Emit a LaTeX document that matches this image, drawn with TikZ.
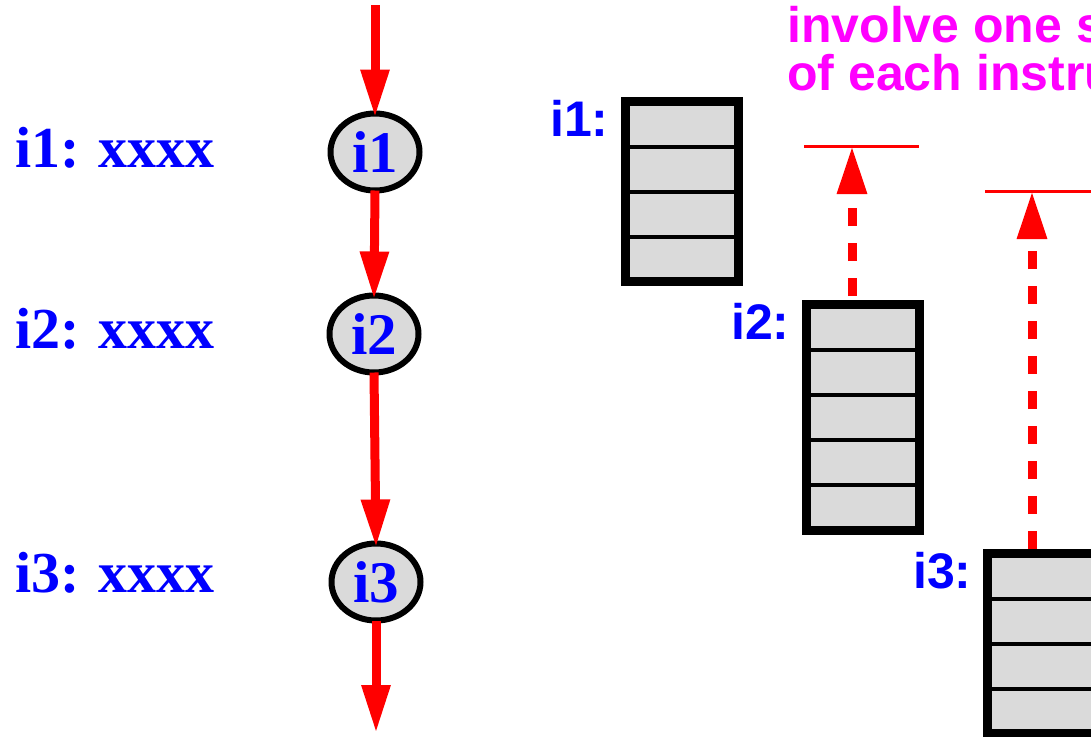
\documentclass[tikz,border=0pt]{standalone}
\usepackage{fontspec}
\setmainfont{Liberation Serif}
\setsansfont{Liberation Sans}
\usetikzlibrary{arrows.meta,calc,shapes.geometric}
\definecolor{lblblue}{RGB}{0,0,255}
\definecolor{notemag}{RGB}{255,0,255}
\definecolor{flowred}{RGB}{255,0,0}
\definecolor{stipple}{RGB}{218,218,218}
\begin{document}
\begin{tikzpicture}[x=1pt,y=-1pt,
  serlbl/.style={text=lblblue,font=\fontsize{58}{58}\bfseries\selectfont,inner sep=0pt},
  sanlbl/.style={text=lblblue,font=\sffamily\fontsize{50}{50}\bfseries\selectfont,inner sep=0pt},
  instr/.style={ellipse,draw=black,line width=6pt,fill=stipple,minimum width=89pt,minimum height=77pt,
    inner sep=0pt,outer sep=0pt,text=lblblue,font=\fontsize{59}{59}\bfseries\selectfont},
  stagebox/.style={draw=black,line width=9pt,fill=stipple,inner sep=0pt,outer sep=0pt},
  divider/.style={line width=4pt,draw=black},
  flow/.style={draw=flowred,line width=9pt,-{Triangle[width=27pt,length=48pt]}},
  depend/.style={draw=flowred,line width=9pt,dash pattern=on 18pt off 17pt,-{Triangle[width=28pt,length=48pt]}},
  limit/.style={draw=flowred,line width=3pt},
  notetext/.style={text=notemag,font=\sffamily\fontsize{50}{48}\bfseries\selectfont,inner sep=0pt},
]
\useasboundingbox (0,0) rectangle (1091,736);
\clip (0,0) rectangle (1091,736);

% program listing on the left
\node[serlbl,anchor=base west] (l1) at (15,167) {i1: xxxx};
\node[serlbl,anchor=base west] (l2) at (15,348) {i2: xxxx};
\node[serlbl,anchor=base west] (l3) at (15,592) {i3: xxxx};

% sequential order of the instructions
\node[instr] (e1) at (375,152) {i1};
\node[instr] (e2) at (374,334) {i2};
\node[instr] (e3) at (376,582) {i3};
\coordinate (top) at (375,5);
\coordinate (bot) at (376,733);
\draw[flow] (top) -- ([yshift=-4pt]e1.north);
\draw[flow] (e1.south) -- ([yshift=-4pt]e2.north);
\draw[flow] (e2.south) -- ([yshift=-4pt]e3.north);
\draw[flow] (e3.south) -- (bot);

% stage stacks of the instructions
\node[stagebox,minimum width=113pt,minimum height=180pt,anchor=north west] (b1) at (625.5,101.5) {};
\node[stagebox,minimum width=113pt,minimum height=226pt,anchor=north west] (b2) at (806.5,304.5) {};
\node[stagebox,minimum width=113pt,minimum height=180pt,anchor=north west] (b3) at (987.5,553.5) {};
\foreach \k in {1,2,3} \draw[divider] ($(b1.north west)!\k/4!(b1.south west)$) -- ($(b1.north east)!\k/4!(b1.south east)$);
\foreach \k in {1,2,3,4} \draw[divider] ($(b2.north west)!\k/5!(b2.south west)$) -- ($(b2.north east)!\k/5!(b2.south east)$);
\foreach \k in {1,2,3} \draw[divider] ($(b3.north west)!\k/4!(b3.south west)$) -- ($(b3.north east)!\k/4!(b3.south east)$);

\node[sanlbl,anchor=base west] (s1) at (550,136) {i1:};
\node[sanlbl,anchor=base west] (s2) at (731,339) {i2:};
\node[sanlbl,anchor=base west] (s3) at (913,588) {i3:};

% start limits and dependences
\coordinate (h1a) at (804,146);
\coordinate (h1b) at (919,146);
\coordinate (h2a) at (985,191);
\coordinate (h2b) at (1100,191);
\draw[limit] (h1a) -- (h1b);
\draw[limit] (h2a) -- (h2b);
\coordinate (d1) at (852,296);
\coordinate (d2) at (1032,549);
\draw[depend] (d1) -- (d1 |- h1a);
\draw[depend] (d2) -- (d2 |- h2a);

% note, running past the right edge
\node[notetext,anchor=base west] (note1) at (787,42) {involve one s};
\node[notetext,anchor=base west] (note2) at (787,90) {of each instru};
\end{tikzpicture}
\end{document}
